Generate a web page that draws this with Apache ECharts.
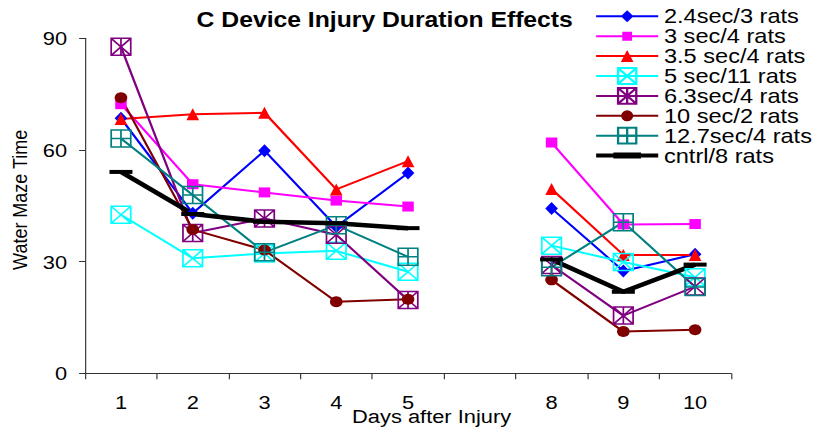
<!DOCTYPE html>
<html><head><meta charset="utf-8">
<script src="https://cdn.jsdelivr.net/npm/echarts@6/dist/echarts.min.js"></script>
<style>
html,body{margin:0;padding:0;background:#fff;overflow:hidden}
#wrap{width:814px;height:429px;overflow:hidden;position:relative;background:#fff}
#chart{width:708px;height:429px;transform:scaleX(1.14972);transform-origin:0 0}
</style></head><body>
<div id="wrap"><div id="chart"></div></div>
<script>
// ---- data ----
const days = ['1', '2', '3', '4', '5', '', '8', '9', '10'];
const yTicks = [0, 30, 60, 90];
const seriesNames = ['2.4sec/3 rats', '3 sec/4 rats', '3.5 sec/4 rats', '5 sec/11 rats',
  '6.3sec/4 rats', '10 sec/2 rats', '12.7sec/4 rats', 'cntrl/8 rats'];
const s2_4sec = [68.5, 43.0, 59.8, 39.4, 53.8, null, 44.3, 27.5, 32.0];
const s3sec = [72.3, 50.8, 48.6, 46.4, 44.8, null, 62.0, 40.0, 40.1];
const s3_5sec = [68.3, 69.6, 70.0, 49.4, 57.0, null, 49.5, 31.8, 31.8];
const s5sec = [42.6, 30.9, 32.2, 32.9, 27.3, null, 34.3, 29.9, 25.8];
const s6_3sec = [87.7, 37.7, 41.6, 37.2, 19.7, null, 29.1, 15.5, 23.3];
const s10sec = [74.0, 38.6, 33.1, 19.2, 19.9, null, 25.1, 11.2, 11.7];
const s12_7sec = [63.1, 47.9, 32.5, 39.8, 31.3, null, 28.5, 40.6, 23.2];
const sCntrl = [54.1, 42.8, 40.7, 40.3, 39.0, null, 30.6, 21.9, 29.2];
const allData = [s2_4sec, s3sec, s3_5sec, s5sec, s6_3sec, s10sec, s12_7sec, sCntrl];

// ---- styles ----
const FONT = "'Liberation Sans', Arial, sans-serif";
const BOX_X = 'path://M0,0H10V10H0Z M0,0L10,10 M10,0L0,10';
const BOX_STAR = 'path://M0,0H10V10H0Z M0,0L10,10 M10,0L0,10 M5,0V10';
const BOX_PLUS = 'path://M0,0H10V10H0Z M5,0V10 M0,5H10';
// legend icons drawn in a 54 x 19.8 box (corner dots fix the bounding box)
const CORNERS = 'M0,0h0.01v0.01h-0.01z M53.99,19.79h0.01v0.01h-0.01z ';
const LEG_LINE = 'M0,8.9H54V10.9H0z ';
const legendIcons = [
  'path://' + CORNERS + LEG_LINE + 'M27,3.9L32.5,9.9L27,15.9L21.5,9.9z',
  'path://' + CORNERS + LEG_LINE + 'M22.75,5.4H31.25V14.4H22.75z',
  'path://' + CORNERS + LEG_LINE + 'M27,3.9L32.5,15.9H21.5z',
  null,
  null,
  'path://' + CORNERS + LEG_LINE + 'M32.25,9.9A5.25,5.5 0 1 1 21.75,9.9A5.25,5.5 0 1 1 32.25,9.9z',
  null,
  'path://' + CORNERS + 'M0,7.9H54V11.9H0z M15,6.9H39V12.9H15z'
];
const styles = [
  {color: '#0000FF', symbol: 'diamond', size: [11, 13], width: 2},
  {color: '#FF00FF', symbol: 'rect', size: [10, 10], width: 2},
  {color: '#FF0000', symbol: 'triangle', size: [11, 12], width: 2},
  {color: '#00FFFF', symbol: BOX_X, size: [17, 17], width: 2, hollow: true},
  {color: '#800080', symbol: BOX_STAR, size: [17, 17], width: 2, hollow: true},
  {color: '#800000', symbol: 'circle', size: [11, 11], width: 2},
  {color: '#008080', symbol: BOX_PLUS, size: [17, 17], width: 2, hollow: true},
  {color: '#000000', symbol: 'rect', size: [20, 4], width: 4.5}
];

const series = seriesNames.map((name, i) => {
  const st = styles[i];
  return {
    name: name,
    type: 'line',
    data: allData[i],
    symbol: st.symbol,
    symbolSize: st.size,
    showSymbol: true,
    showAllSymbol: true,
    connectNulls: false,
    lineStyle: {color: st.color, width: st.width},
    itemStyle: st.hollow
      ? {color: 'none', borderColor: st.color, borderWidth: 1.5, opacity: 1}
      : {color: st.color, borderWidth: 0},
    emphasis: {disabled: true}
  };
});

const legendData = seriesNames.map((name, i) =>
  legendIcons[i] ? {name: name, icon: legendIcons[i]} : {name: name});

const chart = echarts.init(document.getElementById('chart'), null, {renderer: 'svg'});
chart.setOption({
  animation: false,
  backgroundColor: '#fff',
  title: {
    text: 'C Device Injury Duration Effects',
    left: 171, top: 9, padding: 0,
    textStyle: {fontFamily: FONT, fontSize: 21.5, fontWeight: 'bold', color: '#000'}
  },
  legend: {
    data: legendData,
    orient: 'vertical',
    left: 517.5, top: 5.8,
    padding: 0,
    itemWidth: 54, itemHeight: 19.8, itemGap: -1.1,
    selectedMode: false,
    textStyle: {fontFamily: FONT, fontSize: 20.5, lineHeight: 18, color: '#000'}
  },
  grid: {left: 74, right: 72.2, top: 38.3, bottom: 55.7, containLabel: false, outerBoundsMode: 'none'},
  xAxis: {
    type: 'category',
    data: days,
    boundaryGap: true,
    name: 'Days after Injury',
    nameLocation: 'middle',
    nameGap: 33,
    nameMoveOverlap: false,
    nameTextStyle: {fontFamily: FONT, fontSize: 19, color: '#000', padding: [0, 0, 0, 41]},
    axisLine: {show: true, lineStyle: {color: '#333', width: 1}},
    axisTick: {show: true, alignWithLabel: false, length: 6, inside: false, lineStyle: {color: '#333'}},
    axisLabel: {fontFamily: FONT, fontSize: 19, color: '#000', margin: 19, interval: 0},
    splitLine: {show: false}
  },
  yAxis: {
    type: 'value',
    min: yTicks[0], max: yTicks[yTicks.length - 1], interval: 30,
    name: 'Water Maze Time',
    nameLocation: 'middle',
    nameGap: 46,
    nameTextStyle: {fontFamily: FONT, fontSize: 18, color: '#000', padding: [0, 0, 0, 12]},
    axisLine: {show: true, lineStyle: {color: '#333', width: 1}},
    axisTick: {show: true, length: 5.2, inside: false, lineStyle: {color: '#333'}},
    axisLabel: {fontFamily: FONT, fontSize: 19, color: '#000', margin: 15.6},
    splitLine: {show: false}
  },
  series: series
});
</script>
</body></html>
